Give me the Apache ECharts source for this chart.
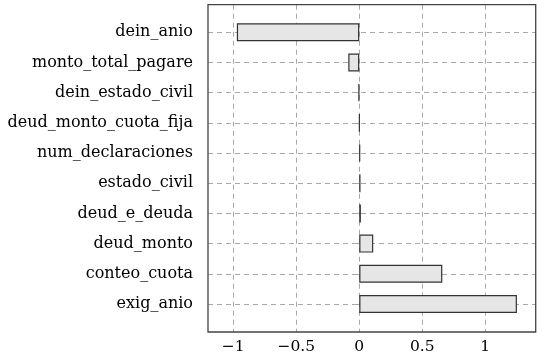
<!DOCTYPE html>
<html>
<head>
<meta charset="utf-8">
<script src="https://cdn.jsdelivr.net/npm/echarts@6/dist/echarts.min.js"></script>
<style>html,body{margin:0;padding:0;background:#fff}#c{width:550px;height:358px}</style>
</head>
<body>
<div id="c"></div>
<script>
const categories = ['dein_anio','monto_total_pagare','dein_estado_civil','deud_monto_cuota_fija','num_declaraciones','estado_civil','deud_e_deuda','deud_monto','conteo_cuota','exig_anio'];
const values = [-0.971, -0.087, -0.006, 0.002, 0.007, 0.01, 0.013, 0.111, 0.659, 1.251];
const xTicks = [-1, -0.5, 0, 0.5, 1];

const FONT = 'DejaVu Serif';
const chart = echarts.init(document.getElementById('c'), null, {renderer: 'canvas'});
chart.setOption({
  animation: false,
  grid: [
    {left: 208, right: 14.3, top: 4.7, bottom: 26, show: true, borderColor: '#444', borderWidth: 1.3, backgroundColor: 'transparent', z: 10},
    {left: 208, right: 14.3, top: 32.3, bottom: 54}
  ],
  xAxis: [
    {type: 'value', gridIndex: 0, min: -1.2, max: 1.4,
     axisLine: {show: false},
     axisTick: {show: false, customValues: xTicks},
     axisLabel: {customValues: xTicks, color: '#000', fontFamily: FONT, fontSize: 15.5, margin: 7,
       formatter: v => String(v).replace('-', '\u2212')},
     splitLine: {show: true, lineStyle: {color: '#a8a8a8', type: [5, 4], width: 1}}},
    {type: 'value', gridIndex: 1, min: -1.2, max: 1.4, show: false}
  ],
  yAxis: [
    {type: 'value', gridIndex: 0, show: false, min: 0, max: 1},
    {type: 'category', gridIndex: 1, data: categories, inverse: true, boundaryGap: false,
     axisLine: {show: false},
     axisTick: {show: true, length: 3, lineStyle: {color: '#a8a8a8'}},
     axisLabel: {color: '#000', fontFamily: FONT, fontSize: 16, margin: 15},
     splitLine: {show: true, lineStyle: {color: '#a8a8a8', type: [5, 4], width: 1}}}
  ],
  series: [{
    type: 'bar', xAxisIndex: 1, yAxisIndex: 1, data: values, barWidth: 18,
    itemStyle: {color: '#e6e6e6', borderColor: '#333', borderWidth: 1.2},
    z: 5
  }]
});
</script>
</body>
</html>
